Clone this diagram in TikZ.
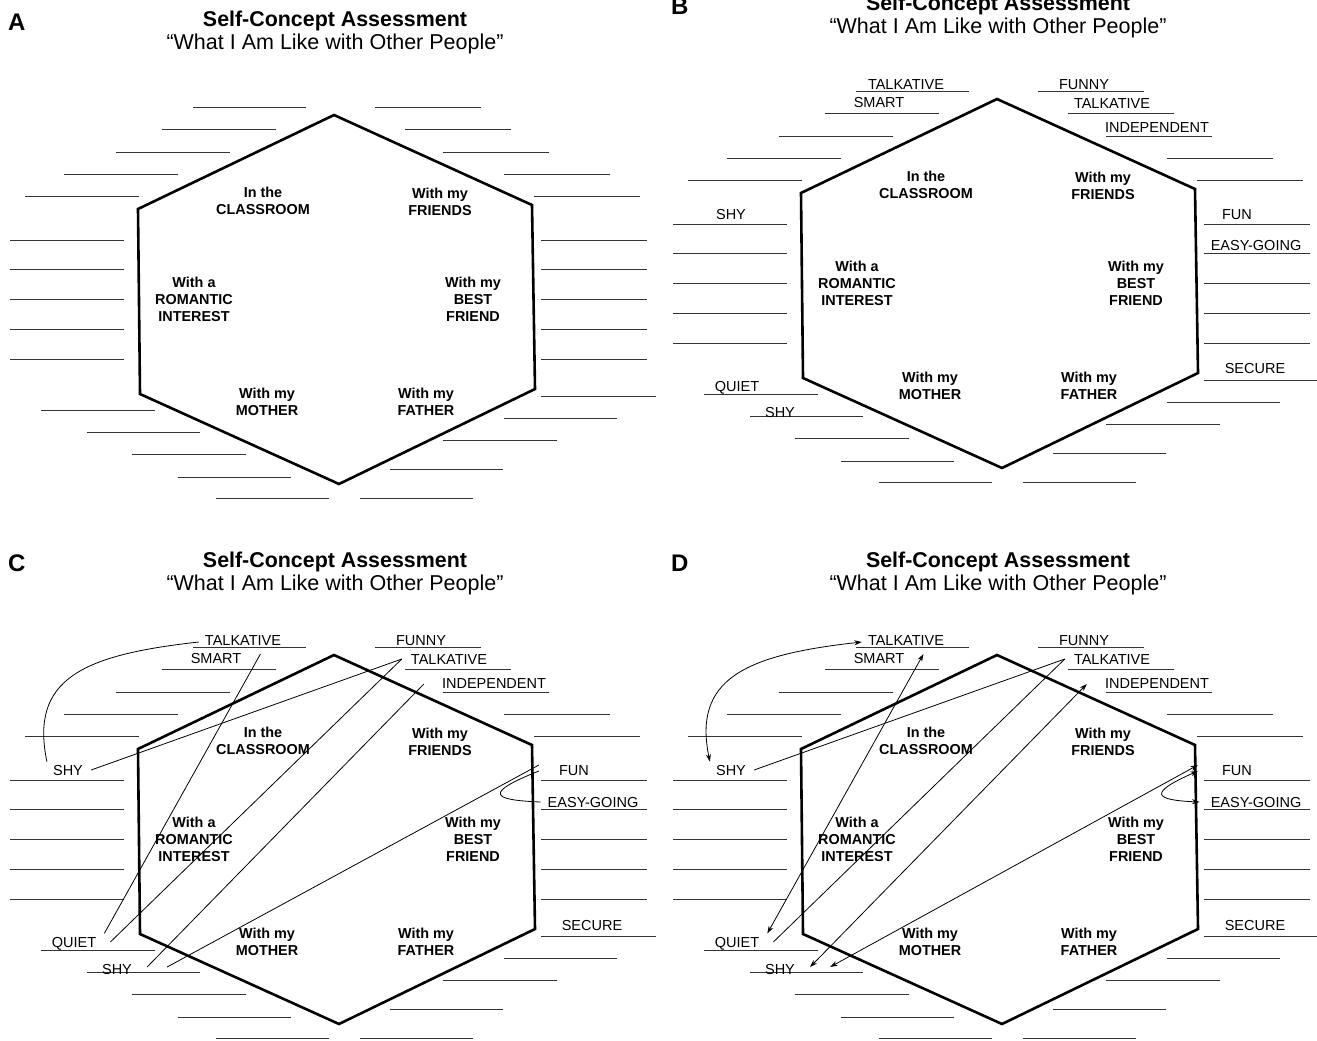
\documentclass[tikz,border=0pt]{standalone}
\usepackage{fontspec}
\setmainfont{Liberation Sans}
\usetikzlibrary{arrows.meta,calc}

% one assessment sheet: prefix, letter, shift
\newcommand{\selfpanel}[4]{%
  \begin{scope}[shift={(#3,#4)}]
    \node[paneltag] (#1-tag) at (8,31) {#2};
    \node[headline] (#1-head) at (335,27) {Self-Concept Assessment};
    \node[subhead] (#1-sub) at (335,50) {“What I Am Like with Other People”};
    \draw[hexline] (334,115) -- (532,205) -- (535,389) -- (339,484) -- (140,394) -- (138,209) -- cycle;
    \node[setting] (#1-class) at (263,201) {In the\\CLASSROOM};
    \node[setting] (#1-friends) at (440,202) {With my\\FRIENDS};
    \node[setting] (#1-romance) at (194,299) {With a\\ROMANTIC\\INTEREST};
    \node[setting] (#1-best) at (473,299) {With my\\BEST\\FRIEND};
    \node[setting] (#1-mother) at (267,402) {With my\\MOTHER};
    \node[setting] (#1-father) at (426,402) {With my\\FATHER};
    % blanks
    \foreach \xa/\xb/\yy in {193/306/107, 162/276/129, 116/230/152, 64/178/174, 25/139/196,
        375/481/107, 405/511/129, 443/549/152, 504/610/174, 534/640/196,
        10/124/240, 10/124/269, 10/124/299, 10/124/329, 10/124/359,
        541/647/240, 541/647/269, 541/647/299, 541/647/329, 541/647/359,
        41/155/410, 87/200/432, 132/246/454, 178/291/477, 216/329/498,
        541/656/396, 504/617/418, 443/557/440, 390/503/469, 360/473/498}
      \draw[blank] (\xa,\yy) -- (\xb,\yy);
  \end{scope}}

% words written on the blanks
\newcommand{\traitwords}[3]{%
  \begin{scope}[shift={(#2,#3)}]
    \node[trait] (#1-talkL) at (243,101) {TALKATIVE};
    \node[trait] (#1-smart) at (216,119) {SMART};
    \node[trait] (#1-funny) at (421,101) {FUNNY};
    \node[trait] (#1-talkR) at (449,120) {TALKATIVE};
    \node[trait] (#1-indep) at (494,144) {INDEPENDENT};
    \node[trait] (#1-shyL) at (68,231) {SHY};
    \node[trait] (#1-fun) at (574,231) {FUN};
    \node[trait] (#1-easy) at (593,262) {EASY-GOING};
    \node[trait] (#1-quiet) at (74,404) {QUIET};
    \node[trait] (#1-shyB) at (117,429) {SHY};
    \node[trait] (#1-secure) at (592,385) {SECURE};
  \end{scope}}

\begin{document}
\begin{tikzpicture}[x=1pt, y=-1pt,
    hexline/.style={line width=2.6pt},
    blank/.style={line width=1pt, black!80},
    headline/.style={font=\bfseries\fontsize{21.4}{24}\selectfont, anchor=base, inner sep=0pt},
    subhead/.style={font=\fontsize{21.5}{24}\selectfont, anchor=base, inner sep=0pt},
    paneltag/.style={font=\bfseries\fontsize{24}{26}\selectfont, anchor=base west, inner sep=0pt},
    setting/.style={font=\bfseries\fontsize{14.4}{17}\selectfont, align=center, inner sep=0pt},
    trait/.style={font=\fontsize{14.5}{17}\selectfont, inner sep=0pt},
    link/.style={line width=0.8pt},
    twoway/.style={link, {Stealth[length=7.5pt,width=5pt]}-{Stealth[length=7.5pt,width=5pt]}}
  ]
  \useasboundingbox[fill=white] (0,0) rectangle (1317,1041);

  \selfpanel{a}{A}{0}{0}
  \selfpanel{b}{B}{663}{-16}
  \selfpanel{c}{C}{0}{540}
  \selfpanel{d}{D}{663}{540}

  \traitwords{b}{663}{-16}
  \traitwords{c}{0}{540}
  \traitwords{d}{663}{540}

  % C: plain links
  \draw[link] ($(c-talkL.west)+(-6,1)$) .. controls +(-118,13) and +(-17,-82) .. ($(c-shyL.north west)+(-6,-4)$);
  \draw[link] ($(c-smart.east)+(19,-5)$) -- ($(c-quiet.north east)+(8,-4)$);
  \draw[link] ($(c-shyL.east)+(8,-1)$) -- ($(c-talkR.west)+(-9,-1)$);
  \draw[link] ($(c-quiet.east)+(14,-2)$) -- ($(c-talkR.west)+(-9,-1)$);
  \draw[link] ($(c-shyB.east)+(15,-2)$) -- ($(c-indep.west)+(-18,0)$);
  \draw[link] ($(c-shyB.east)+(35,-2)$) -- ($(c-fun.west)+(-20,-6)$);
  \draw[link] ($(c-fun.west)+(-20,0)$) .. controls +(-55,22) and +(-50,-2) .. ($(c-easy.west)+(-7,0)$);

  % D: same links with arrows
  \draw[twoway] ($(d-talkL.west)+(-6,1)$) .. controls +(-118,13) and +(-17,-82) .. ($(d-shyL.north west)+(-6,-4)$);
  \draw[twoway] ($(d-smart.east)+(19,-5)$) -- ($(d-quiet.north east)+(8,-4)$);
  \draw[link] ($(d-shyL.east)+(8,-1)$) -- ($(d-talkR.west)+(-9,-1)$);
  \draw[link] ($(d-quiet.east)+(14,-2)$) -- ($(d-talkR.west)+(-9,-1)$);
  \draw[twoway] ($(d-shyB.east)+(15,-2)$) -- ($(d-indep.west)+(-18,0)$);
  \draw[twoway] ($(d-shyB.east)+(35,-2)$) -- ($(d-fun.west)+(-24,-6)$);
  \draw[twoway] ($(d-fun.west)+(-24,0)$) .. controls +(-50,22) and +(-46,-2) .. ($(d-easy.west)+(-11,0)$);
\end{tikzpicture}
\end{document}
